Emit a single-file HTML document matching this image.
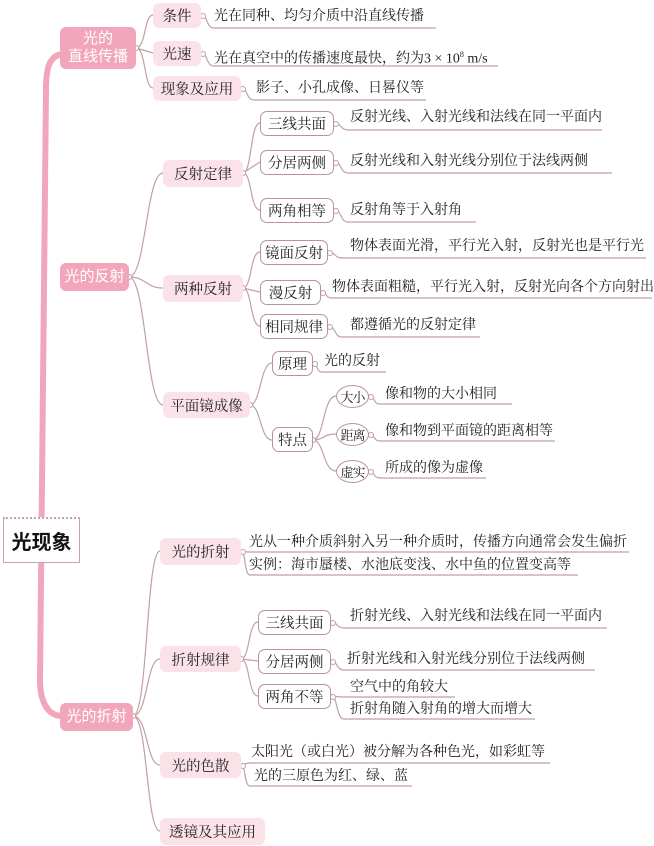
<!DOCTYPE html>
<html><head><meta charset="utf-8"><style>
body{margin:0;width:654px;height:846px;background:#fff;position:relative;overflow:hidden;font-family:"Liberation Serif","Noto Serif CJK SC",serif;color:#222}
.b{position:absolute;display:flex;align-items:center;justify-content:center;box-sizing:border-box;white-space:nowrap}
.l1{background:#f2a6bc;color:#fff;border-radius:6px;font-size:15px;font-family:"Liberation Sans","Noto Sans CJK SC",sans-serif;line-height:18px;text-align:center}
.l2{background:#fbe2e9;border-radius:6px;font-size:14.5px}
.l3{background:#fff;border:1.3px solid #b9939b;border-radius:7px;font-size:14.5px}
.el{background:#fff;border:1.3px solid #b9939b;border-radius:50%;font-size:13px;letter-spacing:-1px}
.t{position:absolute;font-size:14px;white-space:nowrap;line-height:16px}
svg{position:absolute;left:0;top:0}
</style></head><body>
<svg width="654" height="846">
<g fill="none" stroke="#f2a6bc" stroke-width="6" stroke-linecap="round">
<path d="M62 54 C50 56 46 66 46 90 L40 680 C40 705 50 716 62 716"/>
</g>
<g fill="none" stroke="#c0a0a6" stroke-width="1.2">
<path d="M136 48 C146 48 144 15 153 15"/><path d="M136 48 L153 53"/><path d="M136 48 C146 48 144 88 153 88"/>
<path d="M129 277 C146 277 146 173 163 173"/><path d="M129 277 C146 277 146 288 163 288"/><path d="M129 277 C146 277 146 405 163 405"/>
<path d="M133 716 C148 716 146 551 160 551"/><path d="M133 716 C148 716 146 659 160 659"/><path d="M133 716 C148 716 146 765 160 765"/><path d="M133 716 C148 716 146 831 160 831"/>
<path d="M243 173 C252 173 250 123 260 123"/><path d="M243 173 L260 162"/><path d="M243 173 C252 173 250 210 260 210"/>
<path d="M243 288 C252 288 250 252 260 252"/><path d="M243 288 L260 292"/><path d="M243 288 C252 288 250 326 260 326"/>
<path d="M250 405 C261 405 260 363 272 363"/><path d="M250 405 C261 405 260 440 272 440"/>
<path d="M313 440 C324 440 323 396 336 396"/><path d="M313 440 C324 440 323 434 336 434"/><path d="M313 440 C324 440 323 471 336 471"/>
<path d="M241 659 C250 659 248 622 258 622"/><path d="M241 659 L258 661"/><path d="M241 659 C250 659 248 696 258 696"/>
<path d="M201 15 C208 15 206 28 214 28 L436 28"/>
<path d="M201 53 C208 53 206 66 214 66 L498 66"/>
<path d="M241 88 C248 88 246 100 254 100 L426 100"/>
<path d="M334 123 C342 123 340 130 348 130 L602 130"/>
<path d="M334 162 C342 162 340 173 348 173 L612 173"/>
<path d="M334 210 C342 210 340 222 348 222 L476 222"/>
<path d="M328 252 C336 252 334 258 342 258 L646 258"/>
<path d="M321 292 C327 292 325 298 332 298 L652 298"/>
<path d="M328 326 C336 326 334 337 342 337 L480 337"/>
<path d="M313 363 C318 363 316 372 322 372 L386 372"/>
<path d="M369 396 C375 396 373 404 380 404 L512 404"/>
<path d="M369 434 C375 434 373 441 380 441 L555 441"/>
<path d="M369 471 C375 471 373 478 380 478 L486 478"/>
<path d="M241 551 C246 551 244 552 248 552 L629 552"/>
<path d="M241 551 C246 551 244 575 250 575 L578 575"/>
<path d="M331 622 C338 622 336 628 344 628 L607 628"/>
<path d="M331 661 C338 661 336 670 344 670 L595 670"/>
<path d="M331 696 C338 696 336 697 344 697 L455 697"/>
<path d="M331 696 C338 696 336 719 344 719 L535 719"/>
<path d="M241 765 C246 765 244 763 250 763 L550 763"/>
<path d="M241 765 C246 765 244 786 250 786 L412 786"/>
</g>
<g fill="#fff" stroke="#c0a0a6" stroke-width="1">
<circle cx="136" cy="48" r="2.5"/><circle cx="129" cy="277" r="2.5"/><circle cx="133" cy="716" r="2.5"/>
<circle cx="243" cy="173" r="2.5"/><circle cx="243" cy="288" r="2.5"/><circle cx="250" cy="405" r="2.5"/><circle cx="313" cy="440" r="2.5"/><circle cx="241" cy="659" r="2.5"/>
<circle cx="203" cy="16" r="2.5"/><circle cx="203" cy="54" r="2.5"/><circle cx="243" cy="89" r="2.5"/>
<circle cx="336" cy="124" r="2.5"/><circle cx="336" cy="163" r="2.5"/><circle cx="336" cy="211" r="2.5"/>
<circle cx="330" cy="253" r="2.5"/><circle cx="323" cy="293" r="2.5"/><circle cx="330" cy="327" r="2.5"/>
<circle cx="315" cy="364" r="2.5"/><circle cx="371" cy="397" r="2.5"/><circle cx="371" cy="435" r="2.5"/><circle cx="371" cy="472" r="2.5"/>
<circle cx="243" cy="552" r="2.5"/><circle cx="333" cy="623" r="2.5"/><circle cx="333" cy="662" r="2.5"/><circle cx="333" cy="697" r="2.5"/><circle cx="243" cy="766" r="2.5"/>
</g>
</svg>
<div class="b" style="left:3px;top:517px;width:77px;height:46px;background:#fff;border:1.5px solid #c9a3ab;border-top:2px dotted #c9a3ab;font-size:20px;font-weight:bold;font-family:'Liberation Sans','Noto Sans CJK SC',sans-serif;color:#111">光现象</div>
<div class="b l1" style="left:60px;top:27px;width:76px;height:42px">光的<br>直线传播</div>
<div class="b l1" style="left:60px;top:263px;width:69px;height:28px">光的反射</div>
<div class="b l1" style="left:60px;top:703px;width:73px;height:28px">光的折射</div>

<div class="b l2" style="left:153px;top:3px;width:48px;height:25px">条件</div>
<div class="b l2" style="left:153px;top:41px;width:48px;height:25px">光速</div>
<div class="b l2" style="left:153px;top:76px;width:88px;height:25px">现象及应用</div>
<div class="b l2" style="left:163px;top:160px;width:80px;height:27px">反射定律</div>
<div class="b l2" style="left:163px;top:275px;width:80px;height:27px">两种反射</div>
<div class="b l2" style="left:163px;top:392px;width:87px;height:26px">平面镜成像</div>
<div class="b l2" style="left:160px;top:538px;width:81px;height:27px">光的折射</div>
<div class="b l2" style="left:160px;top:646px;width:81px;height:26px">折射规律</div>
<div class="b l2" style="left:160px;top:752px;width:81px;height:26px">光的色散</div>
<div class="b l2" style="left:160px;top:818px;width:105px;height:27px">透镜及其应用</div>

<div class="b l3" style="left:260px;top:111px;width:74px;height:25px">三线共面</div>
<div class="b l3" style="left:260px;top:150px;width:74px;height:25px">分居两侧</div>
<div class="b l3" style="left:260px;top:198px;width:74px;height:25px">两角相等</div>
<div class="b l3" style="left:260px;top:240px;width:68px;height:25px">镜面反射</div>
<div class="b l3" style="left:260px;top:280px;width:61px;height:25px">漫反射</div>
<div class="b l3" style="left:260px;top:314px;width:68px;height:25px">相同规律</div>
<div class="b l3" style="left:272px;top:351px;width:41px;height:25px">原理</div>
<div class="b l3" style="left:272px;top:427px;width:41px;height:25px">特点</div>
<div class="b el" style="left:336px;top:385px;width:33px;height:23px">大小</div>
<div class="b el" style="left:336px;top:423px;width:33px;height:23px">距离</div>
<div class="b el" style="left:336px;top:460px;width:33px;height:23px">虚实</div>
<div class="b l3" style="left:258px;top:610px;width:73px;height:25px">三线共面</div>
<div class="b l3" style="left:258px;top:649px;width:73px;height:25px">分居两侧</div>
<div class="b l3" style="left:258px;top:684px;width:73px;height:25px">两角不等</div>

<div class="t" style="left:214px;top:9px">光在同种、均匀介质中沿直线传播</div>
<div class="t" style="left:214px;top:47px">光在真空中的传播速度最快，约为3 × 10<sup style="font-size:8px">8</sup> m/s</div>
<div class="t" style="left:256px;top:81px">影子、小孔成像、日晷仪等</div>
<div class="t" style="left:350px;top:110px">反射光线、入射光线和法线在同一平面内</div>
<div class="t" style="left:350px;top:154px">反射光线和入射光线分别位于法线两侧</div>
<div class="t" style="left:350px;top:203px">反射角等于入射角</div>
<div class="t" style="left:350px;top:239px">物体表面光滑，平行光入射，反射光也是平行光</div>
<div class="t" style="left:332px;top:280px">物体表面粗糙，平行光入射，反射光向各个方向射出</div>
<div class="t" style="left:350px;top:318px">都遵循光的反射定律</div>
<div class="t" style="left:324px;top:354px">光的反射</div>
<div class="t" style="left:385px;top:387px">像和物的大小相同</div>
<div class="t" style="left:385px;top:424px">像和物到平面镜的距离相等</div>
<div class="t" style="left:385px;top:461px">所成的像为虚像</div>
<div class="t" style="left:249px;top:535px">光从一种介质斜射入另一种介质时，传播方向通常会发生偏折</div>
<div class="t" style="left:249px;top:558px">实例：海市蜃楼、水池底变浅、水中鱼的位置变高等</div>
<div class="t" style="left:350px;top:609px">折射光线、入射光线和法线在同一平面内</div>
<div class="t" style="left:347px;top:652px">折射光线和入射光线分别位于法线两侧</div>
<div class="t" style="left:350px;top:680px">空气中的角较大</div>
<div class="t" style="left:350px;top:702px">折射角随入射角的增大而增大</div>
<div class="t" style="left:251px;top:745px">太阳光（或白光）被分解为各种色光，如彩虹等</div>
<div class="t" style="left:254px;top:769px">光的三原色为红、绿、蓝</div>
</body></html>
